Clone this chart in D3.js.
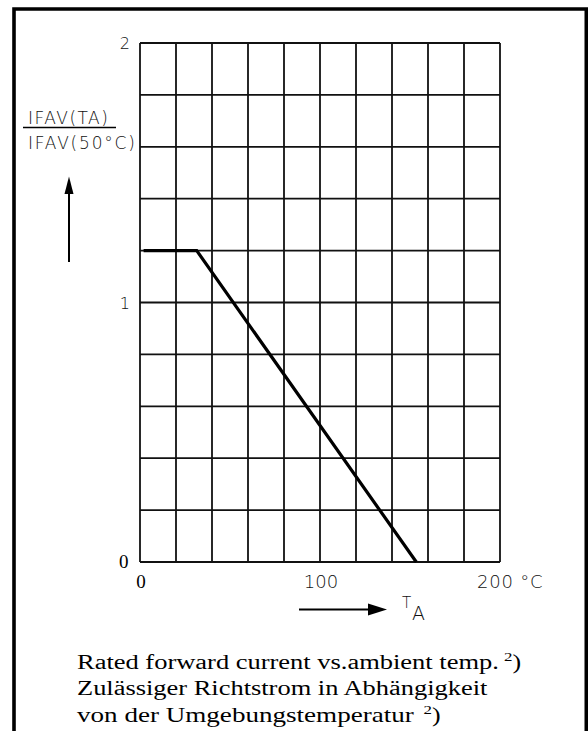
<!DOCTYPE html>
<html>

<head>
    <meta charset="utf-8">
    <title>IFAV vs TA</title>
    <script src="https://cdn.jsdelivr.net/npm/d3@7"></script>
    <style>
        body { margin: 0; background: #fff; }
        .sans { font-family: "DejaVu Sans", "Liberation Sans", sans-serif; font-weight: 200; fill: #111; }
        .serif { font-family: "Liberation Serif", "Times New Roman", serif; fill: #000; }
    </style>
</head>

<body>
    <div id="chart_div"></div>
    <script>
        // chart data
        const xTicks = [0, 100, 200];          // labelled temperature ticks (°C)
        const yTicks = [0, 1, 2];              // labelled ratio ticks
        const xGrid = d3.range(0, 201, 20);    // vertical grid every 20 °C
        const yGrid = d3.range(0, 2.001, 0.2); // horizontal grid every 0.2
        const curveTemp = [2, 31.5, 153.5];    // TA in °C
        const curveRatio = [1.2, 1.2, 0];      // IFAV(TA) / IFAV(50°C)
        const captionLines = [
            "Rated forward current vs.ambient temp.",
            "Zulässiger Richtstrom in Abhängigkeit",
            "von der Umgebungstemperatur"
        ];
        const captionNote = ["2", null, "2"];  // footnote marks

        const width = 588, height = 731;

        let svg = d3.select("#chart_div").append("svg")
            .attr("width", width)
            .attr("height", height);

        // outer frame (open at the bottom)
        svg.append("path")
            .attr("d", "M14,740 L14,9 L586.3,9 L586.3,740")
            .attr("fill", "none")
            .attr("stroke", "#000")
            .attr("stroke-width", 3.6);

        let x = d3.scaleLinear().domain([0, 200]).range([140, 500]);
        let y = d3.scaleLinear().domain([0, 2]).range([562, 43]);

        // grid
        svg.append("g")
            .selectAll("line")
            .data(xGrid)
            .enter().append("line")
            .attr("x1", d => x(d)).attr("x2", d => x(d))
            .attr("y1", y(0)).attr("y2", y(2))
            .attr("stroke", "#111")
            .attr("stroke-width", 1.8);

        svg.append("g")
            .selectAll("line")
            .data(yGrid)
            .enter().append("line")
            .attr("x1", x(0)).attr("x2", x(200))
            .attr("y1", d => y(d)).attr("y2", d => y(d))
            .attr("stroke", "#111")
            .attr("stroke-width", 1.8);

        // curve
        let line = d3.line()
            .x((d, i) => x(curveTemp[i]))
            .y((d, i) => y(curveRatio[i]));

        svg.append("path")
            .datum(curveTemp)
            .attr("d", line)
            .attr("fill", "none")
            .attr("stroke", "#000")
            .attr("stroke-width", 3.2)
            .attr("stroke-linejoin", "miter");

        // y tick labels
        svg.append("g")
            .selectAll("text")
            .data(yTicks)
            .enter().append("text")
            .attr("class", d => d === 0 ? "serif" : "sans")
            .attr("x", d => d === 0 ? 128.5 : 130)
            .attr("y", d => y(d) + 6)
            .attr("text-anchor", "end")
            .attr("font-size", d => d === 0 ? 19 : 16)
            .text(d => d);

        // x tick labels
        svg.append("g")
            .selectAll("text")
            .data(xTicks)
            .enter().append("text")
            .attr("class", d => d === 0 ? "serif" : "sans")
            .attr("x", d => d === 200 ? x(d) - 23 : x(d) + 1)
            .attr("y", 588)
            .attr("text-anchor", d => d === 200 ? "start" : "middle")
            .attr("font-size", d => d === 0 ? 19 : 18)
            .attr("letter-spacing", d => d === 200 ? 0.8 : 0)
            .text(d => d === 200 ? d + " °C" : d);

        // y axis label as a fraction
        svg.append("text")
            .attr("class", "sans")
            .attr("x", 28).attr("y", 124)
            .attr("font-size", 17)
            .attr("letter-spacing", 1.5)
            .text("IFAV(TA)");
        svg.append("line")
            .attr("x1", 23).attr("x2", 116)
            .attr("y1", 127.5).attr("y2", 127.5)
            .attr("stroke", "#000")
            .attr("stroke-width", 1.6);
        svg.append("text")
            .attr("class", "sans")
            .attr("x", 28).attr("y", 148.5)
            .attr("font-size", 17)
            .attr("letter-spacing", 1.8)
            .text("IFAV(50°C)");

        // up arrow
        svg.append("line")
            .attr("x1", 69).attr("x2", 69)
            .attr("y1", 190).attr("y2", 262)
            .attr("stroke", "#000").attr("stroke-width", 2);
        svg.append("path")
            .attr("d", "M69,176.5 L64.5,194 L73.5,194 Z")
            .attr("fill", "#000");

        // right arrow and TA
        svg.append("line")
            .attr("x1", 299).attr("x2", 372)
            .attr("y1", 609.5).attr("y2", 609.5)
            .attr("stroke", "#000").attr("stroke-width", 2);
        svg.append("path")
            .attr("d", "M387,609.5 L368,603.5 L368,615.5 Z")
            .attr("fill", "#000");
        svg.append("text")
            .attr("class", "sans")
            .attr("x", 402).attr("y", 608)
            .attr("font-size", 15)
            .text("T");
        svg.append("text")
            .attr("class", "sans")
            .attr("x", 412).attr("y", 620)
            .attr("font-size", 19)
            .text("A");

        // caption: Times, stretched horizontally like the scan
        const captionLeft = 77;
        const captionRight = [499, 487.5, 414];   // where each line's words end
        const noteLeft = [504, null, 423.5];

        let caption = svg.append("g")
            .attr("class", "serif")
            .attr("font-size", 20);

        captionLines.forEach((txt, i) => {
            let base = 669 + i * 26.4;
            let t = caption.append("text").text(txt);
            let len = t.node().getComputedTextLength();
            let sx = (captionRight[i] - captionLeft) / len;
            t.attr("transform", `translate(${captionLeft},${base}) scale(${sx},1)`);

            if (captionNote[i]) {
                let n = caption.append("text")
                    .attr("transform", `translate(${noteLeft[i]},${base}) scale(1.3,1)`);
                n.append("tspan")
                    .attr("dy", -8)
                    .attr("font-size", 13)
                    .text(captionNote[i]);
                n.append("tspan")
                    .attr("dy", 8)
                    .text(")");
            }
        });
    </script>
</body>

</html>
